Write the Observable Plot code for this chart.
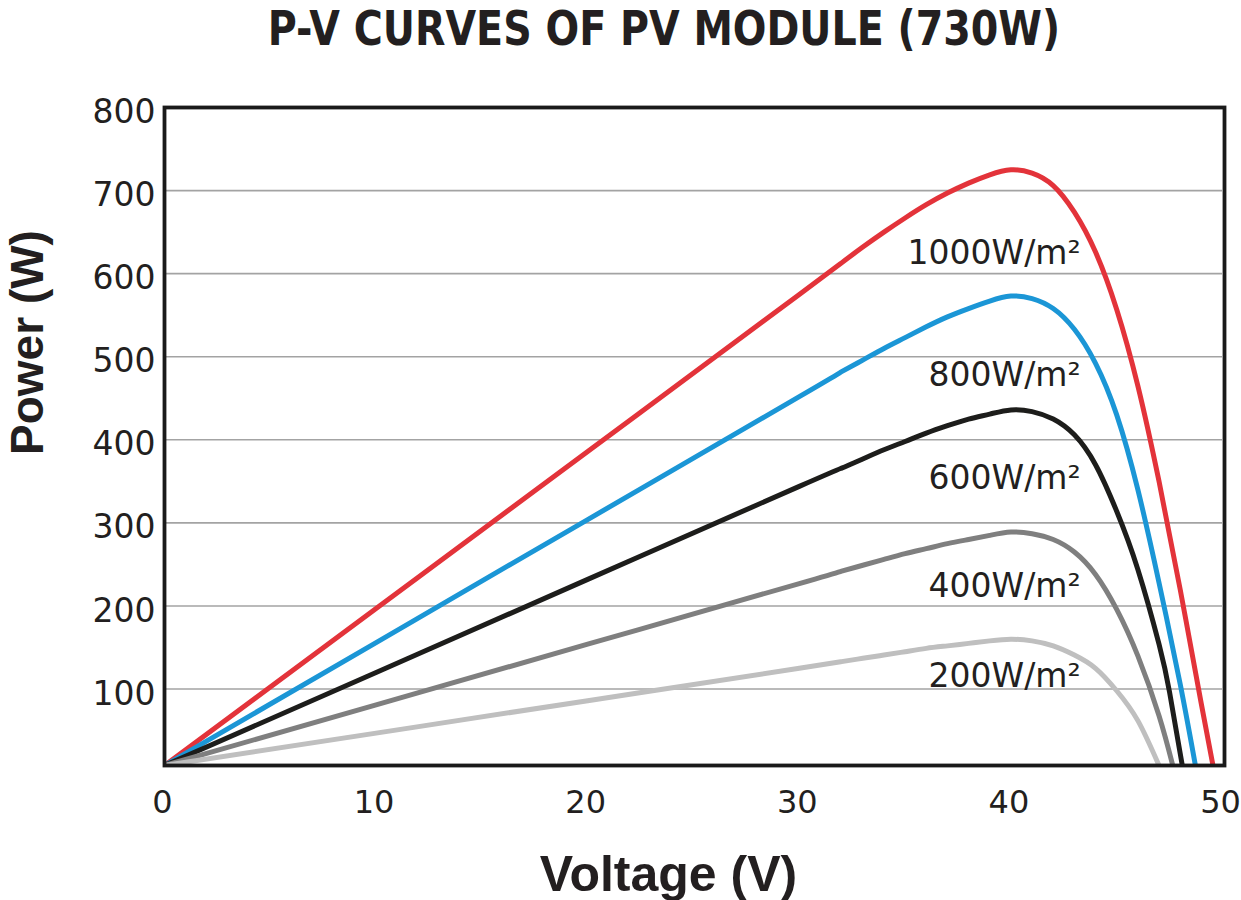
<!DOCTYPE html>
<html>
<head>
<meta charset="utf-8">
<script src="https://cdn.jsdelivr.net/npm/d3@7"></script>
<script src="https://cdn.jsdelivr.net/npm/@observablehq/plot@0.6"></script>
<style>
  html, body { margin: 0; padding: 0; background: #ffffff; }
  #wrap { width: 1241px; height: 900px; background: #ffffff; overflow: hidden; }
  #title {
    box-sizing: border-box; width: 1241px; height: 60px; line-height: 48px; padding-top: 4px;
    padding-left: 86px; text-align: center; white-space: nowrap;
  }
  #title span {
    display: inline-block; transform: scaleX(0.917); transform-origin: 50% 50%;
    font-family: "DejaVu Sans Condensed", "DejaVu Sans", sans-serif;
    font-weight: bold; font-size: 48px; color: #231f20;
  }
</style>
</head>
<body>
<div id="wrap">
  <div id="title"><span>P-V CURVES OF PV MODULE (730W)</span></div>
  <div id="chart"></div>
</div>
<script>
// ---- data ----
const seriesNames = ["1000W/m²", "800W/m²", "600W/m²", "400W/m²", "200W/m²"];
const seriesColors = ["#e3333a", "#1b96d6", "#1d1d1b", "#7f7f7f", "#bfbfbf"];

const v1000 = [0, 10, 20, 30, 32, 33, 34, 35, 36, 37, 38, 39, 40, 41, 42, 43, 44, 45, 46, 47, 48, 49, 49.55];
const p1000 = [8, 197, 386, 575, 613, 632, 650, 667, 683, 697, 709, 719, 725, 721, 706, 674, 626, 557, 465, 350, 220, 82, 8];

const v800 = [0, 10, 20, 30, 32, 33, 34, 35, 36, 37, 38, 39, 40, 41, 42, 43, 44, 45, 46, 47, 48, 48.72];
const p800 = [8, 156, 304, 452, 482, 496, 510, 523, 536, 548, 558, 567, 573, 570, 558, 533, 492, 430, 340, 228, 106, 8];

const v600 = [0, 10, 20, 30, 32, 33, 34, 35, 36, 37, 38, 39, 40, 41, 42, 43, 44, 45, 46, 47, 47.5, 48.1];
const p600 = [8, 120, 232, 344, 366, 377, 388, 398, 408, 417, 425, 431, 436, 434, 425, 406, 370, 314, 244, 154, 96, 8];

const v400 = [0, 10, 20, 30, 32, 33, 34, 35, 36, 37, 38, 39, 40, 41, 42, 43, 44, 45, 46, 47, 47.65];
const p400 = [8, 81, 154, 227, 242, 249, 256, 263, 269, 275, 280, 285, 289, 287, 280, 265, 238, 196, 140, 68, 8];

const v200 = [0, 10, 20, 30, 32, 33, 34, 35, 36, 37, 38, 39, 40, 41, 42, 43, 44, 45, 46, 47];
const p200 = [8, 47, 86, 125, 133, 137, 141, 145, 149, 152, 155, 158, 160, 158, 152, 141, 125, 98, 62, 8];

const xTicks = [0, 10, 20, 30, 40, 50];
const yTicks = [100, 200, 300, 400, 500, 600, 700, 800];
const gridValues = [100, 200, 300, 400, 500, 600, 700];

// curve label anchors (data coordinates)
const labelVoltage = [43.3, 43.3, 43.3, 43.3, 43.3];
const labelPower = [624, 478, 354, 223, 115];

const xTitle = "Voltage (V)";
const yTitle = "Power (W)";

// ---- build table ----
const curveV = [v1000, v800, v600, v400, v200];
const curveP = [p1000, p800, p600, p400, p200];
const rows = [];
seriesNames.forEach((name, i) => {
  curveV[i].forEach((v, j) => rows.push({series: name, v, p: curveP[i][j]}));
});
const labels = seriesNames.map((name, i) => ({name, v: labelVoltage[i], p: labelPower[i]}));

const textColor = "#231f20";

const chart = Plot.plot({
  width: 1241,
  height: 840,
  marginTop: 47,
  marginBottom: 135,
  marginLeft: 164,
  marginRight: 19,
  style: {fontFamily: "DejaVu Sans", fontSize: "33px", color: textColor, background: "#ffffff", overflow: "visible"},
  x: {domain: [0, 50]},
  y: {domain: [8, 800]},
  color: {domain: seriesNames, range: seriesColors},
  marks: [
    Plot.ruleY(gridValues, {stroke: "#a3a3a3", strokeWidth: 1.6}),
    Plot.line(rows, {x: "v", y: "p", z: "series", stroke: "series", strokeWidth: 5, curve: "natural", clip: true}),
    Plot.frame({stroke: "#1a1a1a", strokeWidth: 3.8, insetRight: -2}),
    Plot.axisY(yTicks, {tickSize: 0, tickPadding: 9, dy: 5, fontSize: 33, fill: textColor, label: null}),
    Plot.axisX(xTicks, {tickSize: 0, tickPadding: 25, dx: -2, fontSize: 32, fill: textColor, label: null}),
    Plot.text(labels, {x: "v", y: "p", text: "name", textAnchor: "end", lineAnchor: "middle", fontSize: 33, fill: textColor}),
    Plot.text([xTitle], {frameAnchor: "bottom", lineAnchor: "middle", textAnchor: "middle", dx: -25, dy: 109,
      fontSize: 50, fontWeight: "bold", fontFamily: "Liberation Sans", fill: textColor}),
    Plot.text([yTitle], {frameAnchor: "left", lineAnchor: "middle", textAnchor: "middle", rotate: -90, dx: -136, dy: -94,
      fontSize: 46, fontWeight: "bold", fontFamily: "Liberation Sans", fill: textColor})
  ]
});
document.getElementById("chart").appendChild(chart);
</script>
</body>
</html>
